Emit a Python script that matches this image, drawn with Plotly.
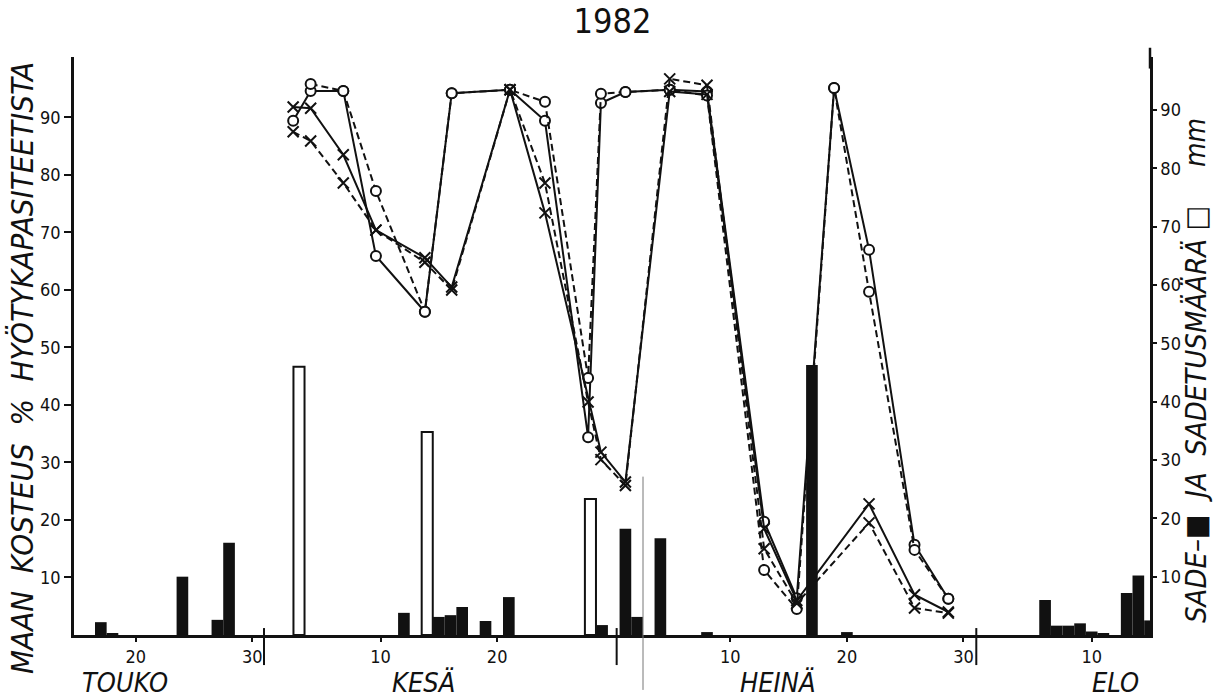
import plotly.graph_objects as go

# ---------------- data (x = day of year 1982) ----------------
rain_days = [137, 138, 144, 147, 148, 163, 166, 167, 168, 170, 172, 180, 182, 183, 185,
             189, 198, 201, 218, 219, 220, 221, 222, 223, 225, 226, 227]
rain_mm = [2.2, 0.3, 10.0, 2.6, 15.8, 3.8, 3.1, 3.4, 4.8, 2.4, 6.5, 1.7, 18.2, 3.1, 16.6,
           0.5, 46.3, 0.5, 6.0, 1.6, 1.6, 2.0, 0.6, 0.3, 7.2, 10.2, 2.5]

irrig_days = [154, 165, 179]
irrig_mm = [46.0, 34.8, 23.3]

meas_days = [153.5, 155.0, 157.8, 160.6, 164.8, 167.1, 172.1, 175.1, 178.8, 179.9,
             182.0, 185.8, 189.0, 193.9, 196.7, 199.9, 202.9, 206.8, 209.7]
moist_solid_o = [89.4, 94.6, 94.6, 65.9, 56.2, 94.2, 94.8, 89.4, 34.4, 92.5,
                 94.4, 94.8, 94.5, 19.7, 6.4, 95.1, 67.0, 15.7, 6.3]
moist_dash_o = [None, 95.8, 94.6, 77.2, 56.2, 94.2, 94.8, 92.7, 44.7, 94.1,
                94.4, 94.8, 93.8, 11.3, 4.5, 95.1, 59.7, 14.8, 6.3]
moist_solid_x = [91.8, 91.6, 83.5, 70.4, 65.6, 60.5, 94.8, 73.4, None, 31.8,
                 26.6, 94.5, 94.0, 18.5, 6.0, None, 22.8, 7.0, 4.0]
moist_dash_x = [87.5, 85.9, 78.6, 70.4, 64.8, 60.0, 94.8, 78.6, 40.5, 30.5,
                26.0, 96.7, 95.6, 15.0, 5.5, None, 19.5, 4.7, 3.8]

x_tick_vals = [140, 150, 161, 171, 191, 201, 211, 222]
x_tick_text = ["20", "30", "10", "20", "10", "20", "30", "10"]
y_tick_vals = [10, 20, 30, 40, 50, 60, 70, 80, 90]
month_names = ["TOUKO", "KESÄ", "HEINÄ", "ELO"]
month_label_days = [139.1, 164.7, 195.1, 224.0]
month_end_days = [151.0, 181.25, 212.1]

FONT = "Liberation Sans Narrow, DejaVu Sans Condensed, Arial Narrow, Liberation Sans, Arial"
BLACK = "#111111"

fig = go.Figure()

fig.add_trace(go.Bar(x=rain_days, y=rain_mm, width=1.0, yaxis="y2",
                     marker=dict(color=BLACK, line=dict(width=0)), name="SADE"))
fig.add_trace(go.Bar(x=irrig_days, y=irrig_mm, width=0.95, yaxis="y2",
                     marker=dict(color="white", line=dict(color=BLACK, width=2)),
                     name="SADETUS"))

line_specs = [
    (moist_solid_o, "solid", "circle"),
    (moist_dash_o, "7px,4px", "circle"),
    (moist_solid_x, "solid", "x-thin"),
    (moist_dash_x, "7px,4px", "x-thin"),
]
for vals, dash, sym in line_specs:
    if sym == "circle":
        mk = dict(symbol="circle", size=10, color="white", line=dict(color=BLACK, width=2))
    else:
        mk = dict(symbol="x-thin", size=11, color=BLACK, line=dict(color=BLACK, width=2))
    fig.add_trace(go.Scatter(x=meas_days, y=vals, mode="lines+markers", yaxis="y",
                             connectgaps=True,
                             line=dict(color=BLACK, width=2, dash=dash), marker=mk))

shapes = []
for d in month_end_days:
    shapes.append(dict(type="line", xref="x", yref="paper", x0=d, x1=d,
                       y0=-0.052, y1=0.012, line=dict(color=BLACK, width=2)))
# right axis line extends a little above the plot
shapes.append(dict(type="line", xref="paper", yref="paper", x0=1, x1=1, y0=0.98, y1=1.016,
                   line=dict(color=BLACK, width=2.5)))
# faint scan line
shapes.append(dict(type="line", xref="paper", yref="paper", x0=(643 - 74) / 1076,
                   x1=(643 - 74) / 1076, y0=-0.095, y1=0.274,
                   line=dict(color="#777777", width=1)))

annotations = []
for name, d in zip(month_names, month_label_days):
    annotations.append(dict(text="<i>" + name + "</i>", x=d, xref="x", y=-0.082, yref="paper",
                            showarrow=False, font=dict(family=FONT, size=27, color=BLACK),
                            xanchor="center", yanchor="middle"))
annotations.append(dict(
    text="<i>MAAN\u00a0\u00a0KOSTEUS\u00a0\u00a0%\u00a0\u00a0HYÖTYKAPASITEETISTA</i>",
    x=(22 - 74) / 1076, xref="paper", y=(635 - 368) / 578, yref="paper",
    textangle=-90, showarrow=False, font=dict(family=FONT, size=31, color=BLACK),
    xanchor="center", yanchor="middle"))
annotations.append(dict(
    text="<i>SADE–■\u00a0\u00a0JA\u00a0\u00a0SADETUSMÄÄRÄ\u00a0□</i>",
    x=(1196 - 74) / 1076, xref="paper", y=(635 - 415) / 578, yref="paper",
    textangle=-90, showarrow=False, font=dict(family=FONT, size=29, color=BLACK),
    xanchor="center", yanchor="middle"))
annotations.append(dict(
    text="<i>mm</i>",
    x=(1196 - 74) / 1076, xref="paper", y=(635 - 143) / 578, yref="paper",
    textangle=-90, showarrow=False, font=dict(family=FONT, size=28, color=BLACK),
    xanchor="center", yanchor="middle"))

fig.update_layout(
    width=1225, height=697,
    margin=dict(l=74, r=75, t=57, b=62),
    paper_bgcolor="white", plot_bgcolor="white",
    showlegend=False, barmode="overlay",
    title=dict(text="1982", x=0.5, xanchor="center", y=1 - 21 / 697, yanchor="middle",
               font=dict(family=FONT, size=34, color=BLACK)),
    font=dict(family=FONT, color=BLACK),
    xaxis=dict(range=[134.7, 227.0], tickvals=x_tick_vals, ticktext=x_tick_text,
               showline=True, linecolor=BLACK, linewidth=2.5, ticks="outside", ticklen=4,
               tickwidth=1.5, tickcolor=BLACK, showgrid=False, zeroline=False,
               tickfont=dict(family=FONT, size=18, color=BLACK)),
    yaxis=dict(range=[0, 100.5], tickvals=y_tick_vals, showline=True, linecolor=BLACK,
               linewidth=2.5, ticks="outside", ticklen=7, tickwidth=1.5, tickcolor=BLACK,
               showgrid=False, zeroline=False,
               tickfont=dict(family=FONT, size=18, color=BLACK)),
    yaxis2=dict(range=[0, 99.1], tickvals=y_tick_vals, overlaying="y", side="right",
                showline=True, linecolor=BLACK, linewidth=2.5, ticks="outside", ticklen=4,
                tickwidth=1.5, tickcolor=BLACK, showgrid=False, zeroline=False,
                tickfont=dict(family=FONT, size=18, color=BLACK)),
    shapes=shapes, annotations=annotations,
)

fig.write_html("out.html")
